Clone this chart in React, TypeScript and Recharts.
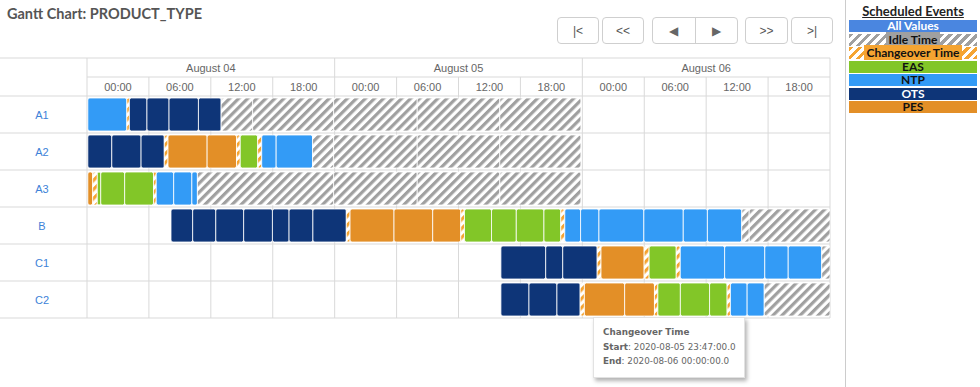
import React from "react";
import { BarChart, Bar, XAxis, YAxis, CartesianGrid, Cell } from "recharts";

type Seg = [string, number, number];

// rows of the gantt and the header labels
const rowNames = ["A1", "A2", "A3", "B", "C1", "C2"];
const dayLabels = ["August 04", "August 05", "August 06"];
const hourTicks = [0, 6, 12, 18, 24, 30, 36, 42, 48, 54, 60, 66, 72];
const dayTicks = [0, 24, 48, 72];

// segments: [type, start hour, end hour] counted from Aug 04 00:00
const segA1: Seg[] = [
  ["NTP", 0.08, 3.86], ["CO", 3.86, 4.11], ["OTS", 4.11, 5.81], ["OTS", 5.81, 7.95],
  ["OTS", 7.95, 10.8], ["OTS", 10.8, 13.0], ["IDLE", 13.0, 16.05], ["IDLE", 16.05, 23.9],
  ["IDLE", 23.9, 32.0], ["IDLE", 32.0, 40.0], ["IDLE", 40.0, 47.86],
];
const segA2: Seg[] = [
  ["OTS", 0.08, 2.4], ["OTS", 2.4, 5.24], ["OTS", 5.24, 7.49], ["CO", 7.49, 7.85],
  ["PES", 7.85, 11.64], ["PES", 11.64, 14.49], ["CO", 14.49, 14.85], ["EAS", 14.85, 16.54],
  ["CO", 16.54, 16.93], ["NTP", 16.93, 18.33], ["NTP", 18.33, 21.86], ["IDLE", 21.86, 23.9],
  ["IDLE", 23.9, 32.0], ["IDLE", 32.0, 40.0], ["IDLE", 40.0, 47.86],
];
const segA3: Seg[] = [
  ["PES", 0.08, 0.55], ["CO", 0.55, 1.0], ["EAS", 1.0, 1.33], ["EAS", 1.33, 3.65],
  ["EAS", 3.65, 6.45], ["CO", 6.45, 6.71], ["NTP", 6.71, 8.4], ["NTP", 8.4, 10.16],
  ["NTP", 10.16, 10.7], ["IDLE", 10.7, 23.9], ["IDLE", 23.9, 32.0], ["IDLE", 32.0, 40.0],
  ["IDLE", 40.0, 47.86],
];
const segB: Seg[] = [
  ["OTS", 8.14, 10.24], ["OTS", 10.24, 12.48], ["OTS", 12.48, 15.18], ["OTS", 15.18, 17.97],
  ["OTS", 17.97, 19.58], ["OTS", 19.58, 21.89], ["OTS", 21.89, 25.13], ["CO", 25.13, 25.49],
  ["PES", 25.49, 29.75], ["PES", 29.75, 33.5], ["PES", 33.5, 36.22], ["CO", 36.22, 36.58],
  ["EAS", 36.58, 39.2], ["EAS", 39.2, 41.6], ["EAS", 41.6, 44.28], ["EAS", 44.28, 45.91],
  ["CO", 45.91, 46.3], ["NTP", 46.3, 47.83], ["NTP", 47.83, 49.61], ["NTP", 49.61, 53.96],
  ["NTP", 53.96, 57.78], ["NTP", 57.78, 60.12], ["NTP", 60.12, 63.45], ["IDLE", 63.45, 64.17],
  ["IDLE", 64.17, 72],
];
const segC1: Seg[] = [
  ["OTS", 40.11, 44.45], ["OTS", 44.45, 46.1], ["OTS", 46.1, 49.44], ["CO", 49.44, 49.81],
  ["PES", 49.81, 53.99], ["CO", 53.99, 54.47], ["EAS", 54.47, 57.1], ["CO", 57.1, 57.49],
  ["NTP", 57.49, 61.79], ["NTP", 61.79, 65.68], ["NTP", 65.68, 67.95], ["NTP", 67.95, 71.2],
  ["IDLE", 71.2, 72],
];
const segC2: Seg[] = [
  ["OTS", 40.11, 42.83], ["OTS", 42.83, 45.54], ["OTS", 45.54, 47.79], ["CO", 47.79, 48.2],
  ["PES", 48.2, 52.1], ["PES", 52.1, 54.99], ["CO", 54.99, 55.32], ["EAS", 55.32, 57.5],
  ["EAS", 57.5, 60.33], ["EAS", 60.33, 62.03], ["CO", 62.03, 62.35], ["NTP", 62.35, 63.97],
  ["NTP", 63.97, 65.63], ["IDLE", 65.63, 72],
];
const rowSegs = [segA1, segA2, segA3, segB, segC1, segC2];

const legendItems = ["All Values", "Idle Time", "Changeover Time", "EAS", "NTP", "OTS", "PES"];

const COLORS: Record<string, string> = {
  NTP: "#339bf6",
  OTS: "#0e3578",
  PES: "#e38f27",
  EAS: "#82c628",
  IDLE: "url(#idleHatch)",
  CO: "url(#coHatch)",
};

// layout
const CHART_W = 840;
const CHART_H = 330;
const HEAD_TOP = 58;
const DAY_H = 19;
const HOUR_H = 19;
const LEFT_W = 87;
const PLOT_TOP = HEAD_TOP + DAY_H + HOUR_H;
const PLOT_RIGHT = 830;
const PLOT_BOTTOM = 318;
const PLOT_W = PLOT_RIGHT - LEFT_W;
const HOUR_W = PLOT_W / 72;
const ROW_H = (PLOT_BOTTOM - PLOT_TOP) / rowNames.length;
const GRID = "#d9d9d9";
const AXIS_FONT = "'Liberation Sans', Arial, sans-serif";
const HATCH = 6.4;
const IDLE_GRAY = "#a0a0a0";
const CO_ORANGE = "#f5a431";

// stacked pieces per row, leading gaps are transparent
const data = rowNames.map((name, r) => {
  const rec: Record<string, any> = { row: name };
  let cur = 0;
  let i = 0;
  for (const [t, s, e] of rowSegs[r]) {
    if (s > cur + 0.001) {
      rec[`v${i}`] = s - cur;
      rec[`t${i}`] = "GAP";
      i++;
    }
    rec[`v${i}`] = e - s;
    rec[`t${i}`] = t;
    i++;
    cur = e;
  }
  rec.n = i;
  return rec;
});
const pieceCount = Math.max(...data.map((d) => d.n));
data.forEach((d) => {
  for (let i = d.n; i < pieceCount; i++) {
    d[`v${i}`] = 0;
    d[`t${i}`] = "GAP";
  }
});

const pad2 = (n: number) => String(n).padStart(2, "0");

const HourTick = (props: any) => {
  const { x, payload } = props;
  const v = payload.value;
  return (
    <g>
      <line x1={x} x2={x} y1={HEAD_TOP + DAY_H} y2={PLOT_TOP} stroke={GRID} />
      {v < 72 && (
        <text x={x + 3 * HOUR_W} y={PLOT_TOP - 5} textAnchor="middle" fontSize={11} fill="#666" fontFamily={AXIS_FONT}>
          {`${pad2(v % 24)}:00`}
        </text>
      )}
    </g>
  );
};

const DayTick = (props: any) => {
  const { x, payload } = props;
  const v = payload.value;
  return (
    <g>
      {v === 0 && (
        <>
          <line x1={0} x2={PLOT_RIGHT} y1={HEAD_TOP} y2={HEAD_TOP} stroke={GRID} />
          <line x1={0} x2={x} y1={PLOT_TOP} y2={PLOT_TOP} stroke={GRID} />
        </>
      )}
      <line x1={x} x2={x} y1={HEAD_TOP} y2={HEAD_TOP + DAY_H} stroke={GRID} />
      {v < 72 && (
        <text x={x + 12 * HOUR_W} y={HEAD_TOP + 14} textAnchor="middle" fontSize={11} fill="#666" fontFamily={AXIS_FONT}>
          {dayLabels[v / 24]}
        </text>
      )}
    </g>
  );
};

const RowTick = (props: any) => {
  const { y, payload } = props;
  return (
    <g>
      <line x1={0} x2={PLOT_RIGHT} y1={y + ROW_H / 2} y2={y + ROW_H / 2} stroke={GRID} />
      <text x={42} y={y + 4} textAnchor="middle" fontSize={11} fill="#3d82d8" fontFamily={AXIS_FONT}>
        {payload.value}
      </text>
    </g>
  );
};

const hatch = (c: string) => `repeating-linear-gradient(135deg, ${c} 0 3.2px, #fff 3.2px 6.4px)`;

const legendStyle = (label: string): React.CSSProperties => {
  switch (label) {
    case "All Values": return { background: "#4a86e0", color: "#fff" };
    case "Idle Time": return { background: hatch(IDLE_GRAY), color: "#111" };
    case "Changeover Time": return { background: hatch(CO_ORANGE), color: "#111" };
    case "EAS": return { background: "#82c628", color: "#111" };
    case "NTP": return { background: "#339bf6", color: "#111" };
    case "OTS": return { background: "#0e3578", color: "#fff" };
    default: return { background: "#e38f27", color: "#111" };
  }
};

const textBg: Record<string, string> = { "Idle Time": IDLE_GRAY, "Changeover Time": CO_ORANGE };

const btn = (left: number, width: number): React.CSSProperties => ({
  position: "absolute",
  left,
  top: 17,
  width,
  height: 27,
  boxSizing: "border-box",
  border: "1px solid #cfcfcf",
  borderRadius: 4,
  background: "#fff",
  color: "#555",
  fontFamily: AXIS_FONT,
  fontSize: 12,
  display: "flex",
  alignItems: "center",
  justifyContent: "center",
});

export default function App() {
  return (
    <div style={{ position: "absolute", left: 0, top: 0, width: 980, height: 387, background: "#fff", overflow: "hidden" }}>
      <div style={{ position: "absolute", left: 0, top: 0 }}>
        <BarChart
          width={CHART_W}
          height={CHART_H}
          data={data}
          layout="vertical"
          margin={{ top: HEAD_TOP, right: CHART_W - PLOT_RIGHT, bottom: CHART_H - PLOT_BOTTOM, left: 0 }}
        >
          <defs>
            <pattern id="idleHatch" patternUnits="userSpaceOnUse" width={HATCH} height={HATCH} patternTransform="rotate(45)">
              <rect width={HATCH} height={HATCH} fill="#fff" />
              <rect width={HATCH / 2} height={HATCH} fill={IDLE_GRAY} />
            </pattern>
            <pattern id="coHatch" patternUnits="userSpaceOnUse" width={HATCH} height={HATCH} patternTransform="rotate(45)">
              <rect width={HATCH} height={HATCH} fill="#fff" />
              <rect width={HATCH / 2} height={HATCH} fill={CO_ORANGE} />
            </pattern>
          </defs>
          <CartesianGrid xAxisId="h" horizontal={false} stroke={GRID} />
          <XAxis
            xAxisId="h"
            type="number"
            orientation="top"
            domain={[0, 72]}
            allowDataOverflow
            ticks={hourTicks}
            interval={0}
            height={HOUR_H}
            tickLine={false}
            axisLine={{ stroke: GRID }}
            tick={HourTick}
          />
          <XAxis
            xAxisId="d"
            type="number"
            orientation="top"
            domain={[0, 72]}
            allowDataOverflow
            ticks={dayTicks}
            interval={0}
            height={DAY_H}
            tickLine={false}
            axisLine={{ stroke: GRID }}
            tick={DayTick}
          />
          <YAxis
            type="category"
            dataKey="row"
            width={LEFT_W}
            interval={0}
            tickLine={false}
            axisLine={false}
            tick={RowTick}
          />
          {Array.from({ length: pieceCount }, (_, i) => (
            <Bar key={i} xAxisId="h" dataKey={`v${i}`} stackId="g" barSize={33} radius={2} isAnimationActive={false}>
              {data.map((d, r) => {
                const t = d[`t${i}`];
                const gap = t === "GAP";
                return (
                  <Cell
                    key={r}
                    fill={gap ? "transparent" : COLORS[t]}
                    stroke={gap ? "none" : "#fff"}
                    strokeWidth={gap ? 0 : 0.8}
                  />
                );
              })}
            </Bar>
          ))}
        </BarChart>
      </div>

      <div style={{ position: "absolute", left: 7, top: 4, fontFamily: "Lato, sans-serif", fontWeight: 700, fontSize: 14.5, color: "#555", lineHeight: "20px" }}>
        Gantt Chart: PRODUCT_TYPE
      </div>

      <div style={btn(557, 42)}>|&lt;</div>
      <div style={btn(602, 42)}>&lt;&lt;</div>
      <div style={{ ...btn(652, 86), justifyContent: "stretch" }}>
        <div style={{ flex: 1, textAlign: "center", borderRight: "1px solid #cfcfcf", height: "100%", display: "flex", alignItems: "center", justifyContent: "center", color: "#666" }}>◀</div>
        <div style={{ flex: 1, textAlign: "center", height: "100%", display: "flex", alignItems: "center", justifyContent: "center", color: "#666" }}>▶</div>
      </div>
      <div style={btn(745, 43)}>&gt;&gt;</div>
      <div style={btn(791, 42)}>&gt;|</div>

      <div style={{ position: "absolute", left: 845, top: 0, width: 1, height: 387, background: "#cccccc" }} />
      <div style={{ position: "absolute", left: 849, top: 4, width: 128, fontFamily: "Lato, sans-serif", fontWeight: 700, textAlign: "center" }}>
        <div style={{ fontSize: 13, lineHeight: "15px", textDecoration: "underline", color: "#222", marginBottom: 1 }}>Scheduled Events</div>
        {legendItems.map((label) => (
          <div key={label} style={{ ...legendStyle(label), height: 12, lineHeight: "12px", fontSize: 12, marginBottom: 1.5 }}>
            <span style={{ background: textBg[label] ?? "transparent", padding: "0 3px" }}>{label}</span>
          </div>
        ))}
      </div>

      <div
        style={{
          position: "absolute",
          left: 593,
          top: 317,
          width: 152,
          height: 61,
          boxSizing: "border-box",
          background: "#fff",
          border: "1px solid #e2e2e2",
          boxShadow: "2px 3px 4px rgba(0,0,0,0.3)",
          padding: "7px 0 0 9px",
          fontFamily: "'DejaVu Sans', Verdana, sans-serif",
          fontSize: 8.8,
          lineHeight: "14.5px",
          color: "#666",
          whiteSpace: "nowrap",
        }}
      >
        <div style={{ fontWeight: 700 }}>Changeover Time</div>
        <div><b>Start</b>: 2020-08-05 23:47:00.0</div>
        <div><b>End</b>: 2020-08-06 00:00:00.0</div>
      </div>
    </div>
  );
}
